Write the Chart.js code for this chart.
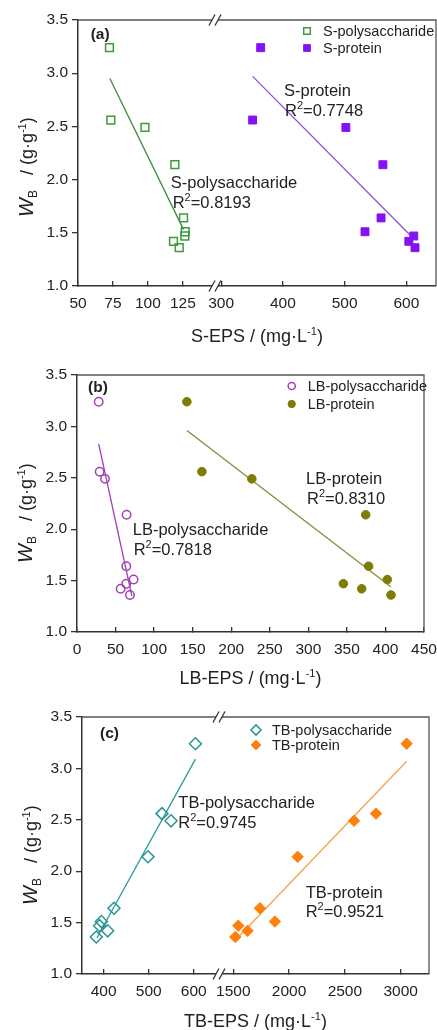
<!DOCTYPE html>
<html>
<head>
<meta charset="utf-8">
<title>W_B vs EPS</title>
<script src="https://cdn.jsdelivr.net/npm/chart.js@4.4.1/dist/chart.umd.min.js"></script>
<style>
  html, body { margin: 0; padding: 0; background: #fff; }
  body { position: relative; width: 437px; height: 1030px; overflow: hidden; }
  canvas { position: absolute; left: 0; }
  #chartA { top: 0; }
  #chartB { top: 345px; }
  #chartC { top: 685px; }
</style>
</head>
<body>
<canvas id="chartA" width="443" height="350"></canvas>
<canvas id="chartB" width="437" height="347"></canvas>
<canvas id="chartC" width="437" height="345"></canvas>
<script>
// W_B, same nine samples in every panel
const wB = [3.24, 2.56, 2.49, 2.14, 1.64, 1.51, 1.47, 1.42, 1.36];

// EPS fractions (mg/L)
const sPoly = [72.5, 73.5, 97.9, 119.3, 125.5, 126.7, 126.4, 118.3, 122.4];
const sProtein = [364, 351, 502, 562, 559, 533, 612, 604, 614];
const lbPoly = [28.1, 29.4, 36.3, 64.3, 63.9, 73.4, 63.9, 56.6, 68.7];
const lbProtein = [142.5, 162, 226.7, 374.4, 378.2, 402.4, 345.4, 369.2, 407.2];
const tbPoly = [603.7, 529.6, 549.6, 498.5, 423, 395, 391, 409, 383.7];
const tbProtein = [3054, 2779, 2582, 2077, 1739, 1873, 1545, 1628, 1518];

// fitted lines, end points
const sPolyFitX = [72.8, 125.5], sPolyFitY = [2.95, 1.53];
const sProteinFitX = [351, 606], sProteinFitY = [2.97, 1.48];
const lbPolyFitX = [28.1, 71.2], lbPolyFitY = [2.83, 1.35];
const lbProteinFitX = [142.5, 407], lbProteinFitY = [2.96, 1.44];
const tbPolyFitX = [385, 603.7], tbPolyFitY = [1.35, 3.09];
const tbProteinFitX = [1555, 3054], tbProteinFitY = [1.37, 3.07];

// tick labels
const yTicks = [1.0, 1.5, 2.0, 2.5, 3.0, 3.5];
const sTicksLeft = [50, 75, 100, 125];
const sTicksRight = [300, 400, 500, 600];
const lbTicks = [0, 50, 100, 150, 200, 250, 300, 350, 400, 450];
const tbTicksLeft = [400, 500, 600];
const tbTicksRight = [1500, 2000, 2500, 3000];

const FONT = "'Liberation Sans', Arial, sans-serif";
const INK = '#222';
const AXIS = '#333';

const pts = (xs, ys) => xs.map((x, i) => ({x: x, y: ys[i]}));
const sup = t => ({t: t, size: 11, dy: -7});

function fontOf(s) {
    return (s.style || '') + ' ' + s.size + 'px ' + FONT;
}

function richWidth(ctx, segs) {
    let w = 0;
    segs.forEach(s => {
        ctx.font = fontOf(s);
        w += ctx.measureText(s.t).width;
    });
    return w;
}

function drawRich(ctx, segs, x, y) {
    ctx.textAlign = 'left';
    ctx.textBaseline = 'alphabetic';
    ctx.fillStyle = INK;
    segs.forEach(s => {
        ctx.font = fontOf(s);
        ctx.fillText(s.t, x, y + (s.dy || 0));
        x += ctx.measureText(s.t).width;
    });
}

function breakMark(ctx, x, y) {
    ctx.save();
    ctx.fillStyle = '#fff';
    ctx.fillRect(x - 3, y - 2, 6, 4);
    ctx.strokeStyle = AXIS;
    ctx.lineWidth = 1.3;
    [-3, 3].forEach(d => {
        ctx.beginPath();
        ctx.moveTo(x + d - 3, y + 5.5);
        ctx.lineTo(x + d + 3, y - 5.5);
        ctx.stroke();
    });
    ctx.restore();
}

// everything drawn around the plot: frame, break marks, legend, notes, titles
function decoPlugin(p) {
    return {
        id: 'deco',
        afterDraw(chart) {
            const ctx = chart.ctx;
            const a = chart.chartArea;
            ctx.save();

            ctx.strokeStyle = '#555';
            ctx.lineWidth = 1.3;
            ctx.beginPath();
            ctx.moveTo(a.left, a.top);
            ctx.lineTo(a.right, a.top);
            ctx.lineTo(a.right, a.bottom);
            ctx.stroke();

            if (p.breakAxis) {
                const bx = chart.scales[p.breakAxis].right;
                breakMark(ctx, bx, a.top);
                breakMark(ctx, bx, a.bottom);
            }

            // panel letter
            drawRich(ctx, [{t: p.letter, size: 15.5, style: 'bold'}], a.left + p.letterPos[0], a.top + p.letterPos[1]);

            // legend
            p.legend.items.forEach((idx, i) => {
                const ds = chart.data.datasets[idx];
                const lx = a.left + p.legend.x;
                const ly = a.top + p.legend.y + i * p.legend.row;
                ctx.fillStyle = ds.backgroundColor;
                ctx.strokeStyle = ds.borderColor;
                ctx.lineWidth = ds.borderWidth;
                Chart.helpers.drawPoint(ctx, {
                    pointStyle: ds.pointStyle, rotation: 0,
                    radius: ds.pointRadius * 0.85, borderWidth: ds.borderWidth
                }, lx, ly);
                drawRich(ctx, [{t: ds.label, size: 14.5}], lx + 16, ly + 5);
            });

            // fit labels
            p.notes.forEach(n => drawRich(ctx, n.segs, a.left + n.x, a.top + n.y));

            // x title, centred on the plot
            const xw = richWidth(ctx, p.xTitle);
            drawRich(ctx, p.xTitle, (a.left + a.right) / 2 - xw / 2, a.bottom + p.xTitleDy);

            // y title, rotated
            ctx.translate(a.left - 45, a.bottom - 69);
            ctx.rotate(-Math.PI / 2);
            drawRich(ctx, [
                {t: 'W', size: 20, style: 'italic'},
                {t: 'B', size: 12, dy: 4},
                {t: '   / (g·g', size: 18},
                sup('-1'),
                {t: ')', size: 18}
            ], 0, 0);

            ctx.restore();
        }
    };
}

function markerSet(label, xs, color, style, radius, open, axis) {
    return {
        label: label,
        data: pts(xs, wB),
        xAxisID: axis,
        yAxisID: 'y',
        pointStyle: style,
        pointRadius: radius,
        borderWidth: open ? 1.5 : 1,
        borderColor: color,
        backgroundColor: open ? 'rgba(0,0,0,0)' : color,
        showLine: false,
        order: 1
    };
}

function fitLine(xs, ys, color, axis) {
    return {
        label: 'fit',
        data: pts(xs, ys),
        xAxisID: axis,
        yAxisID: 'y',
        showLine: true,
        borderColor: color,
        borderWidth: 1.3,
        pointRadius: 0,
        order: 2
    };
}

function makePanel(id, p) {
    const scales = {
        y: {
            type: 'linear',
            position: 'left',
            min: 1, max: 3.5,
            afterBuildTicks: s => { s.ticks = yTicks.map(v => ({value: v})); },
            afterFit: s => { s.width = p.yWidth; },
            ticks: {
                font: {family: FONT, size: 15.5},
                color: INK,
                padding: 4,
                callback: v => Number(v).toFixed(1)
            },
            grid: {drawOnChartArea: false, drawTicks: true, tickLength: 6, color: AXIS, lineWidth: 1.3},
            border: {display: true, color: AXIS, width: 1.5}
        }
    };
    p.xAxes.forEach(ax => {
        scales[ax.id] = {
            type: 'linear',
            axis: 'x',
            position: 'bottom',
            stack: 'x',
            stackWeight: ax.weight,
            min: ax.min, max: ax.max,
            afterBuildTicks: s => { s.ticks = ax.ticks.map(v => ({value: v})); },
            afterFit: s => { s.height = p.xHeight; },
            ticks: {
                // tall line box pushes the labels below the inward ticks
                font: {family: FONT, size: 15.5, lineHeight: 2.88},
                color: INK,
                padding: 0,
                maxRotation: 0,
                autoSkip: false,
                callback: v => String(v)
            },
            grid: {drawOnChartArea: false, drawTicks: true, tickLength: -5, color: AXIS, lineWidth: 1.3},
            border: {display: true, color: AXIS, width: 1.5}
        };
    });

    new Chart(document.getElementById(id), {
        type: 'scatter',
        data: {datasets: p.datasets},
        options: {
            responsive: false,
            animation: false,
            events: [],
            layout: {padding: {top: p.top, right: p.right, left: 0, bottom: 0}},
            plugins: {legend: {display: false}, tooltip: {enabled: false}},
            scales: scales
        },
        plugins: [decoPlugin(p)]
    });
}

// (a) soluble EPS
makePanel('chartA', {
    top: 20, right: 7, yWidth: 78, xHeight: 64,
    xAxes: [
        {id: 'xl', min: 50, max: 148, ticks: sTicksLeft, weight: 137},
        {id: 'xr', min: 290, max: 648, ticks: sTicksRight, weight: 221}
    ],
    breakAxis: 'xl',
    datasets: [
        markerSet('S-polysaccharide', sPoly, '#3d9a3d', 'rect', 5.5, true, 'xl'),
        markerSet('S-protein', sProtein, '#8412f2', 'rect', 5.6, false, 'xr'),
        fitLine(sPolyFitX, sPolyFitY, '#3b8b3b', 'xl'),
        fitLine(sProteinFitX, sProteinFitY, '#8a52d6', 'xr')
    ],
    letter: '(a)', letterPos: [12.7, 18.5],
    legend: {items: [0, 1], x: 229, y: 11, row: 17},
    notes: [
        {x: 206, y: 76, segs: [{t: 'S-protein', size: 16.5}]},
        {x: 207, y: 96, segs: [{t: 'R', size: 16.5}, sup('2'), {t: '=0.7748', size: 16.5}]},
        {x: 92.7, y: 167.7, segs: [{t: 'S-polysaccharide', size: 16.5}]},
        {x: 94.7, y: 187.7, segs: [{t: 'R', size: 16.5}, sup('2'), {t: '=0.8193', size: 16.5}]}
    ],
    xTitle: [{t: 'S-EPS / (mg·L', size: 18}, sup('-1'), {t: ')', size: 18}],
    xTitleDy: 56
});

// (b) loosely bound EPS
makePanel('chartB', {
    top: 30, right: 13, yWidth: 77, xHeight: 60,
    xAxes: [
        {id: 'x', min: 0, max: 450, ticks: lbTicks, weight: 1}
    ],
    breakAxis: null,
    datasets: [
        markerSet('LB-polysaccharide', lbPoly, '#a23fb3', 'circle', 4.2, true, 'x'),
        markerSet('LB-protein', lbProtein, '#7e7c05', 'circle', 4.3, false, 'x'),
        fitLine(lbPolyFitX, lbPolyFitY, '#9c3fb6', 'x'),
        fitLine(lbProteinFitX, lbProteinFitY, '#8b8a36', 'x')
    ],
    letter: '(b)', letterPos: [11, 17],
    legend: {items: [0, 1], x: 214.7, y: 11, row: 18},
    notes: [
        {x: 229, y: 109.3, segs: [{t: 'LB-protein', size: 16.5}]},
        {x: 230, y: 128.7, segs: [{t: 'R', size: 16.5}, sup('2'), {t: '=0.8310', size: 16.5}]},
        {x: 55.7, y: 160, segs: [{t: 'LB-polysaccharide', size: 16.5}]},
        {x: 56.7, y: 180.3, segs: [{t: 'R', size: 16.5}, sup('2'), {t: '=0.7818', size: 16.5}]}
    ],
    xTitle: [{t: 'LB-EPS / (mg·L', size: 18}, sup('-1'), {t: ')', size: 18}],
    xTitleDy: 52
});

// (c) tightly bound EPS
makePanel('chartC', {
    top: 32, right: 8, yWidth: 82, xHeight: 56,
    xAxes: [
        {id: 'xl', min: 352, max: 656, ticks: tbTicksLeft, weight: 137},
        {id: 'xr', min: 1372, max: 3254, ticks: tbTicksRight, weight: 210}
    ],
    breakAxis: 'xl',
    datasets: [
        markerSet('TB-polysaccharide', tbPoly, '#2b9494', 'rectRot', 6, true, 'xl'),
        markerSet('TB-protein', tbProtein, '#ff7f0a', 'rectRot', 5.7, false, 'xr'),
        fitLine(tbPolyFitX, tbPolyFitY, '#2a9a9a', 'xl'),
        fitLine(tbProteinFitX, tbProteinFitY, '#f3a447', 'xr')
    ],
    letter: '(c)', letterPos: [18, 20.5],
    legend: {items: [0, 1], x: 174, y: 13, row: 15},
    notes: [
        {x: 96.3, y: 90.7, segs: [{t: 'TB-polysaccharide', size: 16.5}]},
        {x: 96.3, y: 111.3, segs: [{t: 'R', size: 16.5}, sup('2'), {t: '=0.9745', size: 16.5}]},
        {x: 223.7, y: 181, segs: [{t: 'TB-protein', size: 16.5}]},
        {x: 223.7, y: 200, segs: [{t: 'R', size: 16.5}, sup('2'), {t: '=0.9521', size: 16.5}]}
    ],
    xTitle: [{t: 'TB-EPS / (mg·L', size: 18}, sup('-1'), {t: ')', size: 18}],
    xTitleDy: 53
});
</script>
</body>
</html>
